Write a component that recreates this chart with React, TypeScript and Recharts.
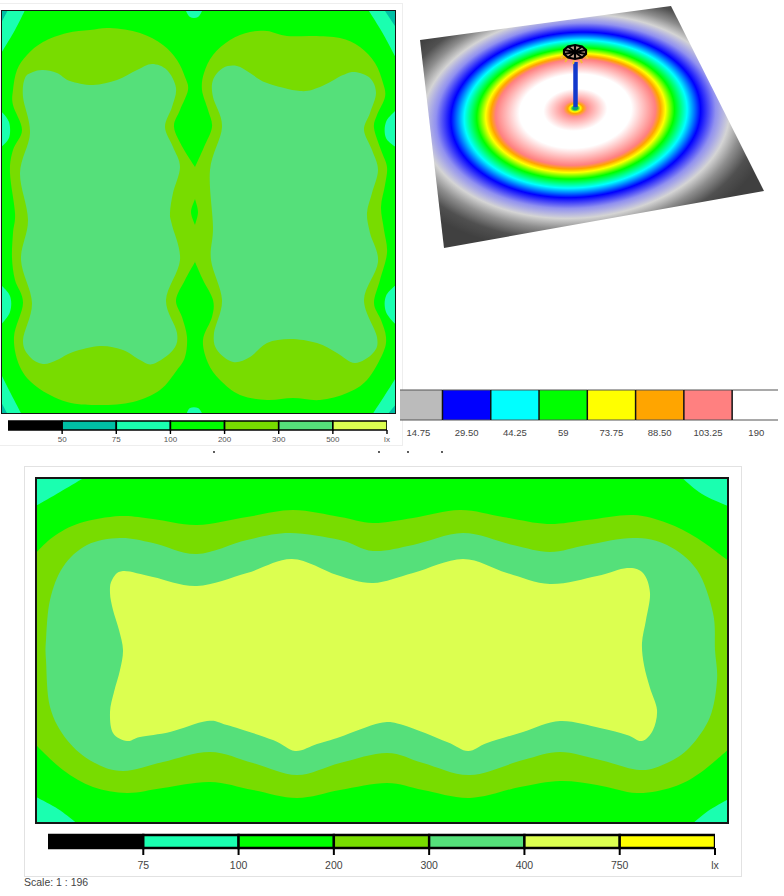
import { BarChart, Bar, ScatterChart, Scatter, XAxis, YAxis } from 'recharts';

type Pt = [number, number];

const FONT = '"Liberation Sans", Arial, sans-serif';

// repeating a point makes a sharp corner in the closed spline
const pin = (x: number, y: number): Pt[] => [[x, y], [x, y], [x, y]];

const PLAN_A_CORNERS_75: Pt[][] = [
  [...pin(0, 8), ...pin(26, 8), [15, 30], ...pin(0, 55)],
  [...pin(367, 8), [382, 32], ...pin(397, 60), ...pin(397, 8)],
  [...pin(0, 372), [10, 392], ...pin(22, 415), ...pin(0, 415)],
  [...pin(397, 376), [385, 395], ...pin(372, 415), ...pin(397, 415)],
  [...pin(185, 9), [190, 17], [198, 17], ...pin(203, 9)],
  [...pin(186, 415), [190, 408], [198, 408], ...pin(203, 415)],
  [...pin(0, 110), [9, 122], [9, 138], ...pin(0, 148)],
  [...pin(0, 284), [10, 296], [10, 312], ...pin(0, 326)],
  [...pin(397, 109), [386, 122], [386, 138], ...pin(397, 148)],
  [...pin(397, 284), [386, 296], [386, 312], ...pin(397, 326)],
];
const PLAN_A_CORNERS_50: Pt[][] = [
  [...pin(0, 8), ...pin(9, 8), ...pin(0, 25)],
  [...pin(383, 8), ...pin(397, 8), ...pin(397, 29)],
  [...pin(0, 400), ...pin(8, 415), ...pin(0, 415)],
  [...pin(397, 403), ...pin(397, 415), ...pin(387, 415)],
];
const PLAN_A_200: Pt[] = [
  [13, 90], [17, 70], [27, 55], [43, 42], [67, 33], [90, 30], [110, 28], [140, 33], [163, 45], [177, 60], [185, 77], [188, 90],
  [180, 110], [174, 127], [183, 148], ...pin(195, 167),
  [204, 147], [212, 127], [208, 110], [202, 90], [204, 73], [213, 55], [230, 40], [250, 32], [267, 31], [287, 36], [313, 36], [340, 38], [360, 47], [375, 63], [383, 83], [385, 97],
  [377, 115], [374, 128], [381, 150], [387, 167], [385, 185], [381, 207], [384, 230], [387, 253], [380, 280], [374, 303], [381, 320], [386, 337], [383, 353], [367, 380], [347, 393], [320, 400], [293, 398], [267, 400], [240, 395], [220, 380], [208, 363], [203, 340],
  [212, 317], [213, 300], [203, 280], ...pin(195, 262),
  [185, 280], [176, 300], [182, 317], [187, 337], [185, 357], [177, 370], [160, 390], [133, 402], [100, 405], [67, 402], [37, 387], [20, 367], [14, 337],
  [23, 303], [15, 280], [12, 258], [13, 233], [15, 213], [10, 173], [13, 150], [22, 130], [13, 105],
];
const PLAN_A_HOLE: Pt[] = [...pin(195, 199), [198, 212], ...pin(195, 225), [191, 212]];
const PLAN_A_300_LEFT: Pt[] = [
  [43, 70], [57, 73], [70, 81], [93, 85], [117, 80], [137, 70], [152, 64], [167, 70], [176, 88], [172, 107], [165, 127], [173, 147], [180, 167], [173, 193], [170, 213], [172, 225], [180, 260], [166, 300], [177, 333], [173, 350], [153, 364], [140, 360], [123, 350], [100, 346], [73, 352], [57, 360], [43, 364], [30, 357], [23, 340], [32, 303], [21, 260], [28, 220], [20, 173], [30, 133], [23, 97], [25, 78], [33, 72],
];
const PLAN_A_300_RIGHT: Pt[] = [
  [237, 66], [250, 73], [267, 83], [300, 91], [320, 87], [343, 75], [355, 72], [370, 78], [376, 93], [370, 113], [364, 130], [372, 150], [378, 170], [372, 193], [367, 213], [370, 233], [378, 262], [364, 300], [377, 337], [373, 353], [355, 363], [337, 353], [317, 343], [290, 339], [267, 343], [250, 357], [233, 362], [217, 350], [214, 333], [222, 300], [211, 260], [213, 227], [210, 170], [222, 127], [213, 97], [213, 80], [223, 68],
];

const PLAN_B_CORNERS_75: Pt[][] = [
  [...pin(34, 476), ...pin(87, 476), [60, 492], ...pin(34, 507)],
  [...pin(680, 476), [702, 494], ...pin(730, 507), ...pin(730, 476)],
  [...pin(34, 796), [58, 809], ...pin(79, 825), ...pin(34, 825)],
  [...pin(691, 825), [708, 811], ...pin(730, 798), ...pin(730, 825)],
];
const PLAN_B_200: Pt[] = [
  ...pin(34, 555), [53, 537], [80, 523], [120, 516], [153, 519], [197, 525], [247, 517], [293, 510], [340, 517], [373, 523], [413, 518], [460, 510], [503, 517], [547, 524], [587, 520], [633, 515], [667, 523], [697, 538], ...pin(730, 562),
  ...pin(730, 748), [700, 773], [673, 787], [637, 793], [597, 785], [560, 781], [520, 787], [470, 798], [423, 790], [387, 783], [340, 790], [297, 798], [253, 790], [210, 782], [163, 788], [127, 793], [93, 787], [63, 770], ...pin(34, 743),
];
const PLAN_B_300: Pt[] = [
  [46, 640], [50, 600], [63, 567], [87, 545], [120, 538], [153, 543], [197, 554], [247, 540], [290, 533], [340, 540], [373, 551], [413, 545], [463, 533], [513, 545], [550, 552], [587, 545], [633, 538], [667, 545], [697, 570], [713, 613], [715, 650], [717, 680], [710, 717], [690, 747], [667, 763], [640, 770], [600, 760], [560, 752], [523, 760], [470, 775], [423, 763], [387, 753], [340, 763], [297, 775], [253, 763], [210, 752], [163, 762], [123, 771], [93, 762], [67, 740], [50, 707], [46, 660],
];
const PLAN_B_400: Pt[] = [
  [110, 593], [112, 580], [123, 571], [153, 577], [197, 586], [247, 573], [292, 559], [337, 575], [373, 583], [413, 573], [463, 559], [507, 573], [550, 584], [597, 576], [627, 568], [643, 573], [650, 593], [646, 620], [642, 643], [644, 665], [650, 688], [657, 710], [653, 730], [642, 741], [627, 735], [600, 728], [560, 721], [523, 732], [487, 743], [468, 751], [447, 742], [403, 725], [380, 723], [340, 737], [317, 744], [295, 751], [273, 740], [227, 725], [207, 721], [170, 732], [140, 737], [127, 741], [113, 733], [110, 712], [114, 692], [120, 670], [123, 650], [119, 630], [113, 610],
];

const PLANE_OUTLINE: Pt[] = [[420, 40], [671, 6], [764, 191], [444, 248]];
const POLE: Pt[] = [[575.5, 107], [575.5, 62]];
const HEAD_RIM: Pt[] = [[575, 45], [582, 46.5], [586, 50], [586, 54], [582, 57.5], [575, 59], [568, 57.5], [564, 54], [564, 50], [568, 46.5]];
const HEAD_HUB: Pt = [575, 52];
const HEAD_STUBS: Pt[][] = [
  [[564, 55], [561, 58]], [[568, 58], [565, 62]], [[574, 60], [573, 64]], [[580, 59], [582, 63]], [[585, 55], [588, 59]],
];

const GLOW_STOPS: [number, string][] = [
  [0, '#1478b0'], [0.012, '#00b060'], [0.026, '#ffff00'], [0.038, '#ffa500'], [0.06, '#ff9090'], [0.16, '#ffffff'],
  [0.28, '#ffffff'], [0.4, '#ff8080'], [0.425, '#ffa500'], [0.45, '#ffff00'], [0.495, '#00ff00'], [0.558, '#00ffff'],
  [0.625, '#0000ff'], [0.7, '#9090f0'], [0.77, '#d4d4d4'], [0.84, '#8e8e8e'], [0.92, '#505050'], [1, '#404040'],
];

const STRAY_MARKS: Pt[] = [[214, 452], [379, 452], [408, 452], [442, 452]];

const SCALE_A_COLORS = ['#000000', '#00bfa5', '#1affb0', '#00ff00', '#78dc00', '#55e07a', '#dcff50'];
const SCALE_A_LABELS = ['50', '75', '100', '200', '300', '500', 'lx'];
const SCALE_B_COLORS = ['#bbbbbb', '#0000ff', '#00ffff', '#00ff00', '#ffff00', '#ffa500', '#ff8080', '#ffffff'];
const SCALE_B_LABELS = ['14.75', '29.50', '44.25', '59', '73.75', '88.50', '103.25', '190'];
const SCALE_C_COLORS = ['#000000', '#1affb0', '#00ff00', '#78dc00', '#55e07a', '#dcff50', '#ffff00'];
const SCALE_C_LABELS = ['75', '100', '200', '300', '400', '750', 'lx'];

const toRows = (pts: Pt[]) => pts.map(([x, y]) => ({ x, y }));
const noDot = () => <g />;

// closed Catmull-Rom through the scaled points, so the contour hits every traced point
function closedSpline(points: { x: number; y: number }[]) {
  const n = points.length;
  let d = `M${points[0].x},${points[0].y}`;
  for (let i = 0; i < n; i++) {
    const p0 = points[(i - 1 + n) % n];
    const p1 = points[i];
    const p2 = points[(i + 1) % n];
    const p3 = points[(i + 2) % n];
    d += `C${p1.x + (p2.x - p0.x) / 6},${p1.y + (p2.y - p0.y) / 6} ${p2.x - (p3.x - p1.x) / 6},${p2.y - (p3.y - p1.y) / 6} ${p2.x},${p2.y}`;
  }
  return d + 'Z';
}

function contour(pts: Pt[], fill: string) {
  return (
    <Scatter
      data={toRows(pts)}
      shape={noDot}
      line={(props: any) => <path d={closedSpline(props.points)} fill={fill} stroke="none" />}
      isAnimationActive={false}
    />
  );
}

function axes(x0: number, x1: number, y0: number, y1: number) {
  return [
    <XAxis key="x" type="number" dataKey="x" domain={[x0, x1]} allowDataOverflow hide />,
    <YAxis key="y" type="number" dataKey="y" domain={[y0, y1]} allowDataOverflow reversed hide />,
  ];
}

function PlanBox({ x0, x1, y0, y1, frame, children }: any) {
  return (
    <div style={{ position: 'absolute', left: x0, top: y0, width: x1 - x0, height: y1 - y0, background: '#00ff00' }}>
      <ScatterChart width={x1 - x0} height={y1 - y0} margin={{ top: 0, right: 0, bottom: 0, left: 0 }}>
        {axes(x0, x1, y0, y1)}
        {children}
      </ScatterChart>
      <div style={{ position: 'absolute', inset: -1, border: `${frame}px solid #151515`, boxSizing: 'border-box' }} />
    </div>
  );
}

// strip cell: fill, grey rules above and below, divider on its left except the first
const openCell = (first: boolean, color: string) => (p: any) => (
  <g>
    <rect x={p.x} y={p.y} width={p.width} height={p.height} fill={color} />
    <line x1={p.x} x2={p.x + p.width} y1={p.y} y2={p.y} stroke="#555" strokeWidth={1.2} />
    <line x1={p.x} x2={p.x + p.width} y1={p.y + p.height} y2={p.y + p.height} stroke="#555" strokeWidth={1.2} />
    {!first && <line x1={p.x} x2={p.x} y1={p.y} y2={p.y + p.height} stroke="#111" strokeWidth={1.5} />}
  </g>
);

function ColorScale({ left, top, width, barH, colors, labels, domain, ticks, tickSize, fontSize, fill, tickMargin, tickW, edge, open }: any) {
  const row: Record<string, number> = {};
  colors.forEach((_: string, i: number) => { row['c' + i] = 1; });
  return (
    <div style={{ position: 'absolute', left: left - 2, top: top - 2 }}>
      <BarChart width={width + 16} height={barH + 32} data={[row]} layout="vertical" barCategoryGap={0} margin={{ top: 2, right: 14, bottom: 0, left: 2 }}>
        <XAxis
          type="number" domain={domain} ticks={ticks} allowDataOverflow interval={0} height={30}
          tickFormatter={(v: number) => labels[ticks.indexOf(v)]}
          tick={{ fontSize, fill, fontFamily: FONT }} tickSize={tickSize} tickMargin={tickMargin}
          axisLine={false} tickLine={tickW ? { stroke: '#000', strokeWidth: tickW } : false}
        />
        <YAxis type="category" hide />
        {colors.map((c: string, i: number) => (
          <Bar
            key={c} dataKey={'c' + i} stackId="s" fill={c} stroke="#000" strokeWidth={edge}
            shape={open ? openCell(i === 0, c) : undefined} isAnimationActive={false}
          />
        ))}
      </BarChart>
    </div>
  );
}

export default function App() {
  return (
    <div style={{ position: 'absolute', left: 0, top: 0, width: 784, height: 896, background: '#fff', overflow: 'hidden', fontFamily: FONT }}>
      <div style={{ position: 'absolute', left: -2, top: 3, width: 403, height: 441, border: '1px solid #eeeeee' }} />
      <div style={{ position: 'absolute', left: 24, top: 466, width: 716, height: 409, border: '1px solid #e2e2e2' }} />

      <PlanBox x0={2} x1={395} y0={11} y1={413} frame={1.5}>
        {PLAN_A_CORNERS_75.map((p) => contour(p, '#1affb0'))}
        {PLAN_A_CORNERS_50.map((p) => contour(p, '#00bfa5'))}
        {contour(PLAN_A_200, '#78dc00')}
        {contour(PLAN_A_HOLE, '#00ff00')}
        {contour(PLAN_A_300_LEFT, '#55e07a')}
        {contour(PLAN_A_300_RIGHT, '#55e07a')}
      </PlanBox>

      <div style={{ position: 'absolute', left: 400, top: 0 }}>
        <ScatterChart width={384} height={260} margin={{ top: 0, right: 0, bottom: 0, left: 0 }}>
          <defs>
            <radialGradient id="glow" gradientUnits="userSpaceOnUse" cx={0} cy={0} r={1} fx={0} fy={-0.083} gradientTransform="translate(176 119) rotate(-4) scale(200 132)">
              {GLOW_STOPS.map(([o, c]) => <stop key={o} offset={o} stopColor={c} />)}
            </radialGradient>
          </defs>
          {axes(400, 784, 0, 260)}
          <Scatter data={toRows(PLANE_OUTLINE)} shape={noDot} line={{ fill: 'url(#glow)', stroke: 'none' }} lineJointType="linearClosed" isAnimationActive={false} />
          <Scatter data={toRows(POLE)} shape={noDot} line={{ stroke: '#1238cc', strokeWidth: 4.5 }} isAnimationActive={false} />
          {HEAD_STUBS.map((p, i) => (
            <Scatter key={'s' + i} data={toRows(p)} shape={noDot} line={{ stroke: '#f4b83c', strokeWidth: 2 }} isAnimationActive={false} />
          ))}
          <Scatter data={toRows(HEAD_RIM)} shape={noDot} line={{ fill: '#c9a890', stroke: '#000', strokeWidth: 2.2 }} lineJointType="linearClosed" isAnimationActive={false} />
          {HEAD_RIM.map((p, i) => (
            <Scatter key={'r' + i} data={toRows([HEAD_HUB, p])} shape={noDot} line={{ stroke: '#000', strokeWidth: 2.2 }} isAnimationActive={false} />
          ))}
        </ScatterChart>
      </div>

      <PlanBox x0={36} x1={728} y0={478} y1={823} frame={2}>
        {PLAN_B_CORNERS_75.map((p) => contour(p, '#1affb0'))}
        {contour(PLAN_B_200, '#78dc00')}
        {contour(PLAN_B_300, '#55e07a')}
        {contour(PLAN_B_400, '#dcff50')}
      </PlanBox>

      <ColorScale left={8} top={420.5} width={379} barH={9} colors={SCALE_A_COLORS} labels={SCALE_A_LABELS} edge={1.6}
        domain={[0, 7]} ticks={[1, 2, 3, 4, 5, 6, 7]} tickSize={4} tickMargin={2} fontSize={8} fill="#555" tickW={1.4} />
      <ColorScale left={400} top={390} width={378} barH={30} colors={SCALE_B_COLORS} labels={SCALE_B_LABELS} open
        domain={[0.12, 7.95]} ticks={[0.5, 1.5, 2.5, 3.5, 4.5, 5.5, 6.5, 7.5]} tickSize={0} tickMargin={9} fontSize={9.5} fill="#444" />
      <ColorScale left={48} top={835} width={667} barH={13} colors={SCALE_C_COLORS} labels={SCALE_C_LABELS} edge={2.4}
        domain={[0, 7]} ticks={[1, 2, 3, 4, 5, 6, 7]} tickSize={7} tickMargin={7} fontSize={10.5} fill="#444" tickW={2} />

      <div style={{ position: 'absolute', left: 0, top: 447 }}>
        <ScatterChart width={784} height={10} margin={{ top: 0, right: 0, bottom: 0, left: 0 }}>
          {axes(0, 784, 447, 457)}
          <Scatter data={toRows(STRAY_MARKS)} shape={(p: any) => <circle cx={p.cx} cy={p.cy} r={0.9} fill="#111" />} isAnimationActive={false} />
        </ScatterChart>
      </div>

      <div style={{ position: 'absolute', left: 24, top: 876, fontSize: 10.5, lineHeight: '12px', color: '#444' }}>Scale: 1 : 196</div>
    </div>
  );
}
